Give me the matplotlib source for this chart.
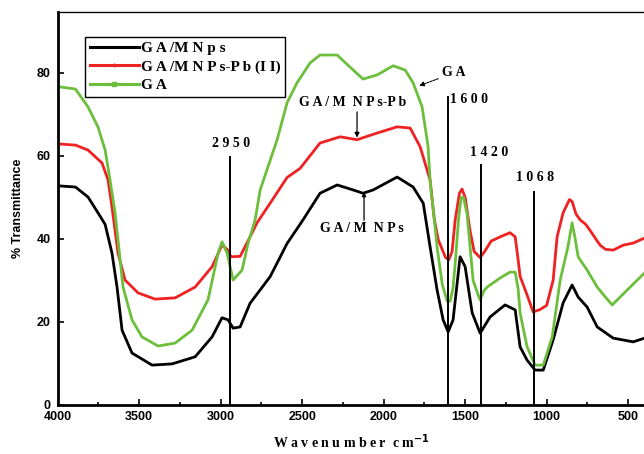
import numpy as np
import matplotlib
matplotlib.use("Agg")
import matplotlib.pyplot as plt
from matplotlib.lines import Line2D
from matplotlib.ticker import MultipleLocator

# GA/MNPs (black)
bk_x = [4000, 3890, 3813, 3752, 3708, 3666, 3635, 3604, 3543, 3420, 3297, 3156, 3052, 2991, 2954,
        2923, 2880, 2819, 2696, 2592, 2494, 2390, 2285, 2187, 2126, 2064, 1917, 1819, 1757, 1715,
        1672, 1635, 1604, 1574, 1531, 1500, 1457, 1408, 1347, 1255, 1193, 1163, 1120, 1071, 1021,
        960, 899, 844, 807, 752, 690, 592, 469, 400]
bk_y = [52.8, 52.5, 50.1, 46.3, 43.5, 36.6, 28.4, 18.0, 12.5, 9.6, 9.9, 11.6, 16.4, 21.0, 20.5,
        18.5, 18.8, 24.5, 30.9, 38.9, 44.6, 51.0, 53.0, 51.8, 51.0, 51.8, 54.9, 52.5, 48.6, 38.1,
        27.7, 20.5, 17.6, 20.5, 35.7, 33.3, 22.2, 17.3, 21.2, 24.1, 22.9, 14.0, 10.8, 8.4, 8.4,
        15.7, 24.6, 28.9, 26.0, 23.6, 18.8, 16.1, 15.2, 16.1]

# GA/MNPs-Pb(II) (red)
rd_x = [4000, 3890, 3813, 3727, 3690, 3666, 3629, 3586, 3506, 3402, 3279, 3156, 3052, 2991, 2960,
        2936, 2880, 2819, 2776, 2696, 2592, 2512, 2390, 2267, 2163, 2040, 1917, 1837, 1776, 1715,
        1690, 1665, 1620, 1600, 1580, 1561, 1535, 1519, 1500, 1470, 1445, 1408, 1380, 1340, 1285,
        1225, 1193, 1175, 1163, 1120, 1083, 1040, 1000, 960, 936, 899, 860, 844, 820, 795, 760,
        733, 690, 672, 640, 592, 530, 469, 400]
rd_y = [62.9, 62.6, 61.4, 58.3, 54.2, 47.7, 36.6, 30.1, 27.0, 25.5, 25.8, 28.4, 33.3, 38.5, 37.5,
        35.7, 35.8, 40.5, 43.9, 48.6, 54.8, 57.0, 63.1, 64.6, 63.9, 65.5, 67.0, 66.7, 62.2, 54.2,
        45.0, 39.8, 35.5, 35.0, 37.0, 44.6, 51.0, 52.0, 50.0, 42.0, 37.0, 35.5, 37.0, 39.5, 40.5,
        41.5, 40.5, 35.0, 31.0, 26.5, 22.4, 23.0, 24.0, 30.1, 40.5, 46.3, 49.5, 49.0, 46.0, 44.6,
        43.5, 42.0, 39.5, 38.5, 37.5, 37.3, 38.5, 39.0, 40.2]

# GA (green)
gr_x = [4000, 3890, 3813, 3752, 3708, 3678, 3647, 3598, 3543, 3482, 3383, 3279, 3175, 3077, 3015,
        2991, 2960, 2923, 2868, 2831, 2788, 2757, 2653, 2592, 2531, 2451, 2390, 2285, 2206, 2126,
        2040, 1942, 1868, 1819, 1764, 1727, 1715, 1690, 1672, 1640, 1610, 1592, 1575, 1561, 1540,
        1525, 1510, 1488, 1451, 1420, 1408, 1385, 1365, 1285, 1225, 1193, 1175, 1163, 1120, 1071,
        1021, 966, 917, 870, 844, 825, 807, 752, 690, 640, 598, 506, 400]
gr_y = [76.7, 76.1, 71.8, 67.0, 61.4, 54.2, 46.3, 28.4, 20.5, 16.4, 14.2, 14.9, 18.0, 25.3, 36.6,
        39.3, 36.6, 30.1, 32.5, 39.0, 44.6, 51.8, 63.9, 72.8, 77.6, 82.4, 84.3, 84.3, 81.4, 78.5,
        79.5, 81.7, 80.7, 77.6, 71.8, 62.2, 54.0, 45.0, 38.0, 29.0, 25.0, 25.0, 28.0, 34.0, 45.0,
        50.0, 50.0, 46.0, 30.0, 26.5, 25.3, 27.5, 28.4, 30.6, 32.0, 32.0, 28.0, 22.2, 14.0, 9.6,
        9.6, 16.4, 30.1, 38.0, 43.9, 40.0, 35.7, 32.5, 28.4, 26.0, 24.1, 27.7, 31.8]

# marked bands: position, top of line, label and label centre
band_pos = [2940, 1605, 1400, 1080]
band_top = [59.8, 74.1, 57.8, 51.2]
band_txt = ["2 9 5 0", "1 6 0 0", "1 4 2 0", "1 0 6 8"]
band_tx = [2935, 1478, 1352, 1070]
band_ty = [63.1, 73.7, 60.7, 54.7]

serif = "Liberation Serif"
sans = "Liberation Sans"

fig = plt.figure(figsize=(6.44, 4.54), dpi=100)
ax = fig.add_axes([0.0893, 0.108, 0.914, 0.865])

c_red = "#ee2222"
c_green = "#6cbf3c"
ax.plot(bk_x, bk_y, color="black", lw=2.0)
ax.plot(rd_x, rd_y, color=c_red, lw=2.0)
ax.plot(gr_x, gr_y, color=c_green, lw=2.0)

for p, t in zip(band_pos, band_top):
    ax.plot([p, p], [0, t], color="black", lw=1.4)
for s, tx, ty in zip(band_txt, band_tx, band_ty):
    ax.text(tx, ty, s, fontsize=10, fontweight="bold", family=serif, ha="center", va="center")

# curve labels with arrows
ax.annotate("G A", xy=(1782, 76.9), xytext=(1640, 80.0), fontsize=10, fontweight="bold",
            family=serif, ha="left", va="center",
            arrowprops=dict(arrowstyle="-|>", color="black", lw=0.8, linestyle=(0, (2, 1)),
                            mutation_scale=7, shrinkA=1, shrinkB=0))
ax.text(2193, 72.8, "G A / M  N P s-P b", fontsize=10, fontweight="bold", family=serif,
        ha="center", va="center")
ax.annotate("", xy=(2163, 64.4), xytext=(2163, 70.6),
            arrowprops=dict(arrowstyle="-|>", color="black", lw=0.9, mutation_scale=7,
                            shrinkA=0, shrinkB=0))
ax.text(2132, 42.4, "G A / M  N P s", fontsize=10, fontweight="bold", family=serif,
        ha="center", va="center")
ax.annotate("", xy=(2120, 51.3), xytext=(2120, 44.5),
            arrowprops=dict(arrowstyle="-|>", color="black", lw=0.9, mutation_scale=6,
                            shrinkA=0, shrinkB=0))

ax.set_xlim(4000, 390)
ax.set_ylim(0, 94.6)
ax.xaxis.set_major_locator(MultipleLocator(500))
ax.xaxis.set_minor_locator(MultipleLocator(250))
ax.yaxis.set_major_locator(MultipleLocator(20))
ax.tick_params(which="both", direction="in", width=1.2)
ax.tick_params(which="major", length=4)
ax.tick_params(axis="x", which="major", pad=4)
ax.tick_params(axis="y", which="major", pad=5)
ax.tick_params(which="minor", length=2.5)
for lab in ax.get_xticklabels() + ax.get_yticklabels():
    lab.set_family(sans)
    lab.set_fontweight("bold")
    lab.set_fontsize(9)
ax.spines["left"].set_linewidth(2)
ax.spines["bottom"].set_linewidth(2)
ax.spines["top"].set_linewidth(1)

ax.set_xlabel("W a v e n u m b e r  c m$^{\\mathbf{-1}}$", family=serif, fontweight="bold",
              fontsize=10, labelpad=7)
ax.set_ylabel("% Transmittance", family=sans, fontweight="bold", fontsize=9, labelpad=9)

handles = [Line2D([0], [0], color="black", lw=2.2),
           Line2D([0], [0], color=c_red, lw=2.2, marker="|", ms=3),
           Line2D([0], [0], color=c_green, lw=2.2, marker="s", ms=2.5)]
labels = ["G A /M N p s", "G A /M N P s-P b (I I)", "G A"]
leg = ax.legend(handles, labels, loc="upper left", bbox_to_anchor=(0.047, 0.937),
                prop={"family": serif, "weight": "bold", "size": 11},
                handlelength=3.2, handletextpad=0.15, labelspacing=0.3, borderpad=0.3,
                borderaxespad=0, fancybox=False, edgecolor="black", framealpha=1,
                numpoints=1)
leg.get_frame().set_linewidth(1.0)

plt.savefig("out.png", dpi=100)
